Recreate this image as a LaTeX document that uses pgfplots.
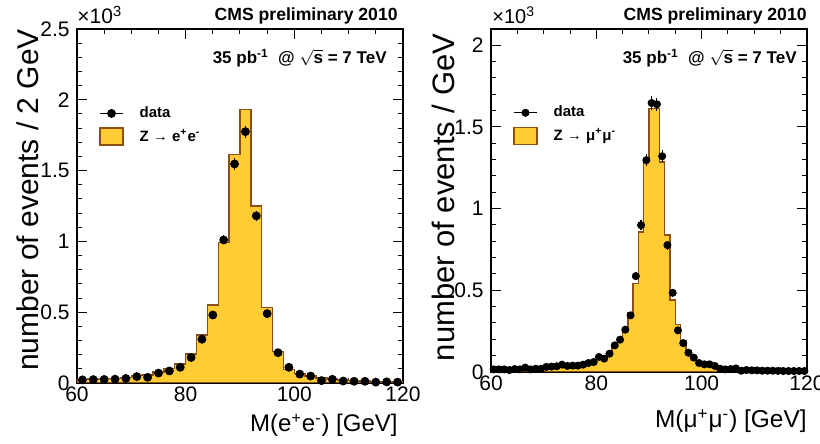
\documentclass[border=0pt]{standalone}
\usepackage{fontspec}
\setmainfont{Liberation Sans}
\usepackage{pgfplots}
\pgfplotsset{compat=1.18}
\usepackage{pgfplotstable}

\definecolor{zfill}{RGB}{255,204,51}
\definecolor{zline}{RGB}{140,80,20}

% Z -> ee: simulated histogram (left bin edges, thousands of events / 2 GeV)
\pgfplotstableread{
x y
60 0.026
62 0.028
64 0.030
66 0.033
68 0.040
70 0.052
72 0.056
74 0.078
76 0.101
78 0.134
80 0.205
82 0.339
84 0.550
86 0.994
88 1.615
90 1.933
92 1.250
94 0.535
96 0.221
98 0.097
100 0.068
102 0.050
104 0.036
106 0.028
108 0.022
110 0.018
112 0.015
114 0.012
116 0.010
118 0.009
120 0.009
}\mcee

% Z -> ee: data (bin centres)
\pgfplotstableread{
x y
61 0.022
63 0.024
65 0.025
67 0.027
69 0.032
71 0.045
73 0.040
75 0.070
77 0.085
79 0.111
81 0.180
83 0.309
85 0.480
87 1.010
89 1.547
91 1.775
93 1.180
95 0.490
97 0.214
99 0.111
101 0.063
103 0.049
105 0.017
107 0.026
109 0.014
111 0.012
113 0.012
115 0.006
117 0.008
119 0.006
}\dataee

% Z -> mumu: simulated histogram (left bin edges, thousands of events / GeV)
\pgfplotstableread{
x y
60 0.016
61 0.016
62 0.017
63 0.018
64 0.019
65 0.020
66 0.021
67 0.022
68 0.024
69 0.026
70 0.029
71 0.031
72 0.034
73 0.037
74 0.040
75 0.043
76 0.047
77 0.052
78 0.058
79 0.068
80 0.085
81 0.098
82 0.120
83 0.155
84 0.200
85 0.265
86 0.360
87 0.542
88 0.858
89 1.297
90 1.613
91 1.613
92 1.286
93 0.838
94 0.440
95 0.292
96 0.190
97 0.130
98 0.095
99 0.070
100 0.056
101 0.046
102 0.038
103 0.032
104 0.027
105 0.023
106 0.020
107 0.018
108 0.016
109 0.014
110 0.013
111 0.012
112 0.011
113 0.010
114 0.009
115 0.009
116 0.008
117 0.008
118 0.007
119 0.007
120 0.007
}\mcmm

% Z -> mumu: data (bin centres)
\pgfplotstableread{
x y
60.5 0.016
61.5 0.016
62.5 0.016
63.5 0.012
64.5 0.018
65.5 0.016
66.5 0.027
67.5 0.016
68.5 0.020
69.5 0.020
70.5 0.031
71.5 0.033
72.5 0.035
73.5 0.045
74.5 0.037
75.5 0.039
76.5 0.039
77.5 0.045
78.5 0.055
79.5 0.061
80.5 0.092
81.5 0.082
82.5 0.112
83.5 0.163
84.5 0.198
85.5 0.259
86.5 0.347
87.5 0.587
88.5 0.899
89.5 1.297
90.5 1.647
91.5 1.639
92.5 1.321
93.5 0.777
94.5 0.485
95.5 0.255
96.5 0.177
97.5 0.118
98.5 0.088
99.5 0.055
100.5 0.047
101.5 0.047
102.5 0.037
103.5 0.020
104.5 0.016
105.5 0.018
106.5 0.022
107.5 0.008
108.5 0.012
109.5 0.010
110.5 0.010
111.5 0.008
112.5 0.008
113.5 0.008
114.5 0.007
115.5 0.006
116.5 0.006
117.5 0.006
118.5 0.006
119.5 0.006
}\datamm

\pgfplotsset{
  cmsaxis/.style={
    scale only axis,
    anchor=south west,
    xmin=60, xmax=120, ymin=0,
    axis line style={line width=0.8pt},
    tick align=inside,
    major tick length=5pt, minor tick length=2.5pt,
    every tick/.style={black, line width=0.5pt},
    xtick={60,80,100,120},
    minor xtick={65,70,75,85,90,95,105,110,115},
    minor y tick num=4,
    /pgf/number format/assume math mode=true,
    ticklabel style={font=\fontsize{10.5}{12}\selectfont},
    xticklabel style={inner sep=0pt, yshift=-1.5pt},
    yticklabel style={inner sep=0pt, xshift=-3.5pt},
    reverse legend,
    legend cell align=left,
    legend style={draw=none, fill=none, anchor=north west,
      inner sep=0pt, column sep=7.5pt, row sep=3pt,
      font=\bfseries\fontsize{7.5}{9}\selectfont,
      nodes={inner sep=0.5pt}},
  },
  zhist/.style={const plot, fill=zfill, draw=zline, line width=0.7pt,
    legend image code/.code={
      \draw[fill=zfill, draw=zline, line width=0.6pt]
        (0pt,-4.25pt) rectangle (11.5pt,4.25pt);}},
  zdata/.style={only marks, mark=*, mark size=#1, black,
    error bars/.cd, y dir=both, y explicit,
    error mark=none, error bar style={line width=0.6pt, black},
    /pgfplots/legend image code/.code={
      \draw[black, line width=0.6pt] (0pt,0pt) -- (11.5pt,0pt);
      \fill[black] (5.75pt,0pt) circle (#1);}},
}

\begin{document}
\begin{tikzpicture}[every node/.append style={inner sep=0pt}]
\useasboundingbox (0,0) rectangle (410pt,222pt);

% electron channel
\begin{axis}[cmsaxis,
  at={(38.5pt,30.5pt)}, width=163pt, height=177pt,
  ymax=2.5, ytick={0,0.5,1,1.5,2,2.5},
  legend style={at={(0.0675,0.785)}}]
\addplot[zhist] table[x=x, y=y] {\mcee} \closedcycle;
\addlegendentry{Z → e\textsuperscript{+}e\textsuperscript{-}}
\addplot[zdata=2pt] table[x=x, y=y, y error expr={sqrt(\thisrow{y}/1000)}] {\dataee};
\addlegendentry{data}
\end{axis}

% muon channel
\begin{axis}[cmsaxis,
  at={(245.5pt,36pt)}, width=158pt, height=171.5pt,
  ymax=2.1, ytick={0,0.5,1,1.5,2},
  legend style={at={(0.0696,0.78)}}]
\addplot[zhist] table[x=x, y=y] {\mcmm} \closedcycle;
\addlegendentry{Z → μ\textsuperscript{+}μ\textsuperscript{-}}
\addplot[zdata=1.8pt] table[x=x, y=y, y error expr={sqrt(\thisrow{y}/1000)}] {\datamm};
\addlegendentry{data}
\end{axis}

% multipliers, headers and axis titles
\node[anchor=base west, font=\fontsize{10.5}{12}\selectfont] at (38.5pt,210pt) {×10\textsuperscript{3}};
\node[anchor=base west, font=\fontsize{10}{12}\selectfont] at (246pt,210pt) {×10\textsuperscript{3}};

\node[anchor=base east, font=\bfseries\fontsize{8.8}{10}\selectfont] at (199pt,211.7pt) {CMS preliminary 2010};
\node[anchor=base east, font=\bfseries\fontsize{8.8}{10}\selectfont] at (403.5pt,211.7pt) {CMS preliminary 2010};

\node[anchor=base east, font=\bfseries\fontsize{8.5}{10}\selectfont] at (193.5pt,190.3pt)
  {35 pb\textsuperscript{-1}\ \ @ $\sqrt{\textbf{s}}$ = 7 TeV};
\node[anchor=base east, font=\bfseries\fontsize{8.5}{10}\selectfont] at (398.5pt,190.3pt)
  {35 pb\textsuperscript{-1}\ \ @ $\sqrt{\textbf{s}}$ = 7 TeV};

\node[anchor=base east, font=\fontsize{12}{14}\selectfont] at (199pt,6pt)
  {M(e\textsuperscript{+}e\textsuperscript{-}) [GeV]};
\node[anchor=base east, font=\fontsize{12.2}{14}\selectfont] at (403.5pt,8pt)
  {M(μ\textsuperscript{+}μ\textsuperscript{-}) [GeV]};

\node[anchor=base, rotate=90, font=\fontsize{15}{17}\selectfont] at (19pt,122pt)
  {number of events / 2 GeV};
\node[anchor=base, rotate=90, font=\fontsize{15.5}{17}\selectfont] at (227pt,123.25pt)
  {number of events / GeV};
\end{tikzpicture}
\end{document}
